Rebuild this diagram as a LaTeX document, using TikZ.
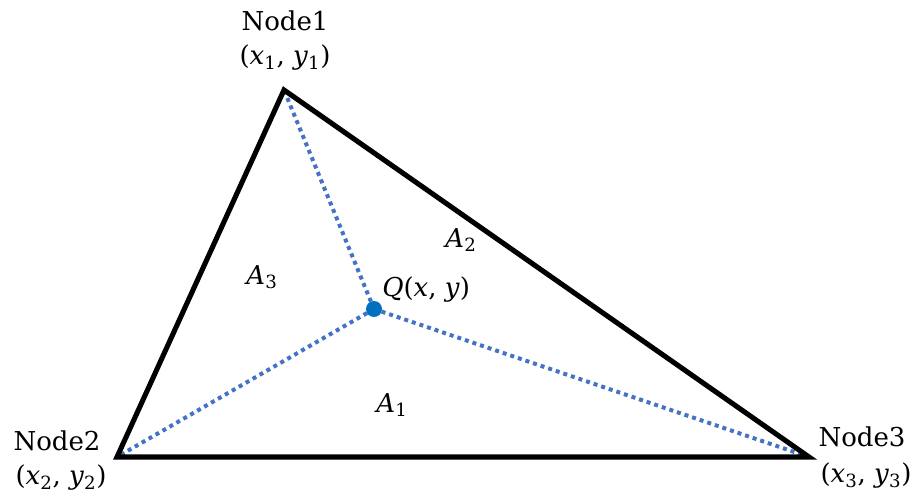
\documentclass[tikz,border=0pt]{standalone}
\usepackage{fontspec}
\setmainfont{DejaVu Serif}
\newcommand{\vx}[1]{\textit{x}\textsubscript{#1}}
\newcommand{\vy}[1]{\textit{y}\textsubscript{#1}}
\begin{document}
\begin{tikzpicture}[x=0.75pt,y=-0.75pt,
  lbl/.style={inner sep=0pt,font=\fontsize{19.5}{23}\selectfont},
  edge/.style={line width=3.8pt,black,line join=miter},
  spoke/.style={line width=3pt,color=dotblue,dash pattern=on 3pt off 3pt},
]
\definecolor{dotblue}{HTML}{4472C4}
\definecolor{qblue}{HTML}{0070C0}
\useasboundingbox (0,0) rectangle (922,503);
\coordinate (n1) at (284,90);
\coordinate (n2) at (117,457);
\coordinate (n3) at (809,457);
\coordinate (q) at (374,309);
\draw[spoke] (q) -- (n1);
\draw[spoke] (q) -- (n2);
\draw[spoke] (q) -- (n3);
\draw[edge] (n1) -- (n2) -- (n3) -- cycle;
\fill[qblue] (q) circle (8);
\node[lbl] (t1) at (285,21) {Node1};
\node[lbl] (c1) at (285,58) {(\vx{1}, \vy{1})};
\node[lbl] (t2) at (57,441) {Node2};
\node[lbl] (c2) at (61,478) {(\vx{2}, \vy{2})};
\node[lbl] (t3) at (862,437) {Node3};
\node[lbl] (c3) at (866,476) {(\vx{3}, \vy{3})};
\node[lbl] (a3) at (262,277) {\textit{A}\textsubscript{3}};
\node[lbl] (a2) at (461,240) {\textit{A}\textsubscript{2}};
\node[lbl] (a1) at (392,405) {\textit{A}\textsubscript{1}};
\node[lbl,anchor=west] (ql) at (382,290) {\textit{Q}(\textit{x}, \textit{y})};
\end{tikzpicture}
\end{document}
